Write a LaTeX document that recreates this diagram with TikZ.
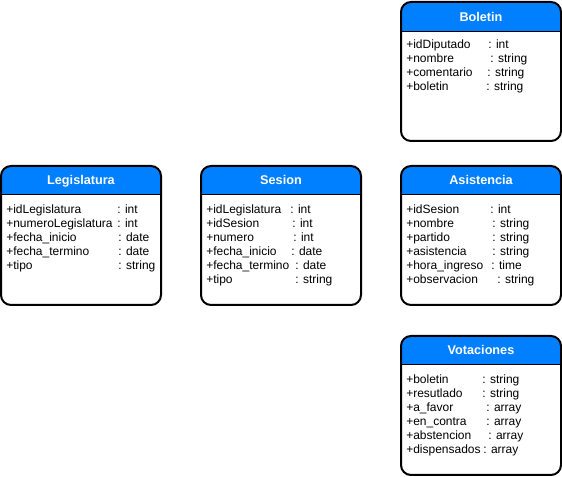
\documentclass[tikz,border=0pt]{standalone}
\usepackage{fontspec}
\setmainfont{Liberation Sans}
\definecolor{headblue}{HTML}{007FFF}
\tikzset{
  x=0.75pt, y=-0.75pt,
  frameline/.style={draw=black, line width=1.5pt, rounded corners=7.5pt},
  sepline/.style={draw=black, line width=0.75pt},
  titletext/.style={text=white, font=\bfseries\fontsize{9.5}{11}\selectfont, inner sep=0pt, anchor=base},
  attrtext/.style={text=black, font=\fontsize{9}{10}\selectfont, inner sep=0pt, anchor=base west},
}
% class box: name, left x, top y, bottom y, header line y, title
\newcommand\classbox[6]{%
  \fill[white, rounded corners=7.5pt] (#2,#3) rectangle (#2+160,#4);
  \begin{scope}
    \clip[rounded corners=7.5pt] (#2,#3) rectangle (#2+160,#4);
    \fill[headblue] (#2,#3) rectangle (#2+160,#5);
  \end{scope}
  \draw[sepline] (#2,#5) -- (#2+160,#5);
  \draw[frameline] (#2,#3) rectangle (#2+160,#4);
  \node[titletext] (#1) at (#2+80,{(#3+#5)/2+4.5}) {#6};
}
% attribute row: name, x, baseline y, type x, attribute, type
\newcommand\attrrow[6]{%
  \node[attrtext] (#1n) at (#2,#3) {#5};
  \node[attrtext] (#1t) at (#4,#3) {#6};
}
\begin{document}
\begin{tikzpicture}
\useasboundingbox (0,0) rectangle (562,477);

% Boletin
\classbox{boletin}{401}{2}{141}{32}{Boletin}
\attrrow{bo1}{406}{49}{488}{+idDiputado}{: int}
\attrrow{bo2}{406}{63}{490}{+nombre}{: string}
\attrrow{bo3}{406}{77}{487}{+comentario}{: string}
\attrrow{bo4}{406}{91}{486}{+boletin}{: string}

% Legislatura
\classbox{legislatura}{1}{166}{305}{195}{Legislatura}
\attrrow{le1}{6}{214}{117}{+idLegislatura}{: int}
\attrrow{le2}{6}{228}{117}{+numeroLegislatura}{: int}
\attrrow{le3}{6}{242}{118}{+fecha\_inicio}{: date}
\attrrow{le4}{6}{256}{118}{+fecha\_termino}{: date}
\attrrow{le5}{6}{270}{118}{+tipo}{: string}

% Sesion
\classbox{sesion}{201}{166}{305}{195}{Sesion}
\attrrow{se1}{206}{214}{290}{+idLegislatura}{: int}
\attrrow{se2}{206}{228}{292}{+idSesion}{: int}
\attrrow{se3}{206}{242}{293}{+numero}{: int}
\attrrow{se4}{206}{256}{291}{+fecha\_inicio}{: date}
\attrrow{se5}{206}{270}{295}{+fecha\_termino}{: date}
\attrrow{se6}{206}{284}{295}{+tipo}{: string}

% Asistencia
\classbox{asistencia}{401}{166}{305}{195}{Asistencia}
\attrrow{as1}{406}{214}{490}{+idSesion}{: int}
\attrrow{as2}{406}{228}{492}{+nombre}{: string}
\attrrow{as3}{406}{242}{492}{+partido}{: string}
\attrrow{as4}{406}{256}{492}{+asistencia}{: string}
\attrrow{as5}{406}{270}{491}{+hora\_ingreso}{: time}
\attrrow{as6}{406}{284}{497}{+observacion}{: string}

% Votaciones
\classbox{votaciones}{401}{336}{475}{365}{Votaciones}
\attrrow{vo1}{406}{384}{482}{+boletin}{: string}
\attrrow{vo2}{406}{398}{482}{+resutlado}{: string}
\attrrow{vo3}{406}{412}{486}{+a\_favor}{: array}
\attrrow{vo4}{406}{426}{486}{+en\_contra}{: array}
\attrrow{vo5}{406}{440}{488}{+abstencion}{: array}
\attrrow{vo6}{406}{454}{483}{+dispensados}{: array}
\end{tikzpicture}
\end{document}
